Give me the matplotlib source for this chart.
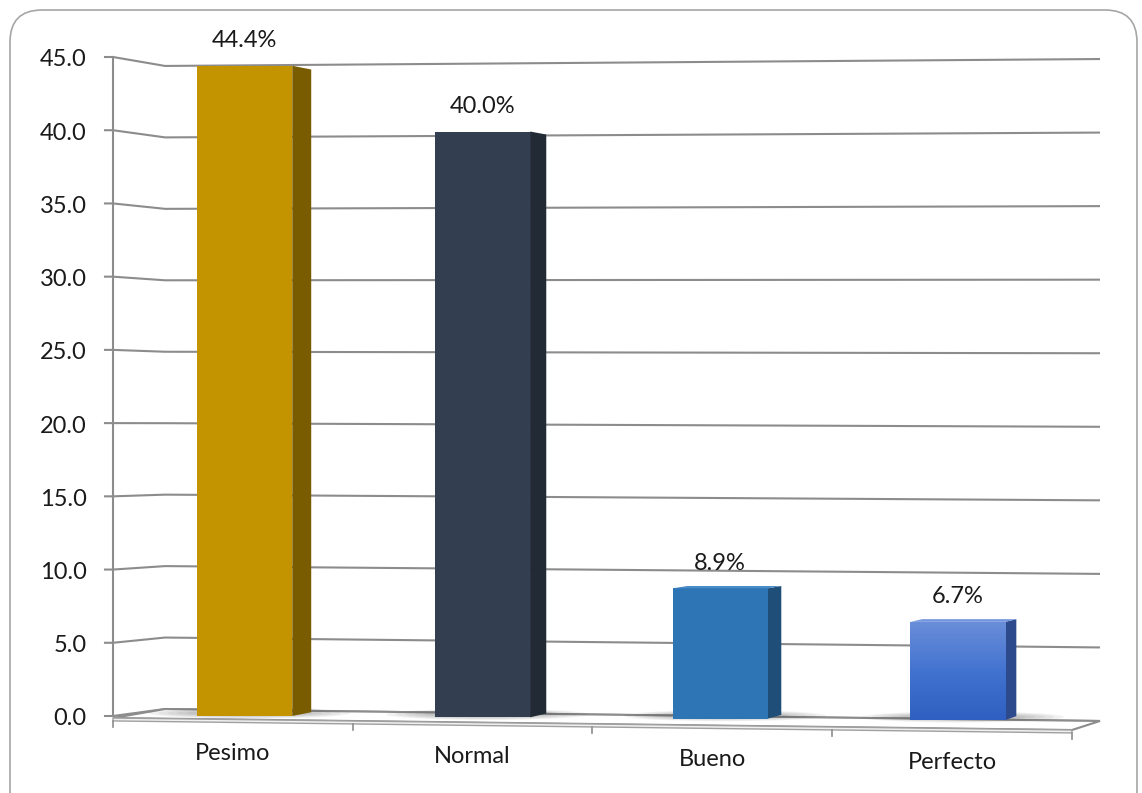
import numpy as np
import matplotlib.pyplot as plt
from matplotlib.patches import Polygon, FancyBboxPatch, Ellipse
from matplotlib.colors import LinearSegmentedColormap

plt.rcParams['font.family'] = ['Lato', 'DejaVu Sans']

# Datos
categorias = ['Pesimo', 'Normal', 'Bueno', 'Perfecto']
porcentajes = [44.4, 40.0, 8.9, 6.7]
ticks_y = np.arange(0, 50, 5)

color_frente = ['#C39300', '#333F50', '#2E75B6', '#4A74CC']
color_lado = ['#7A5C00', '#222A35', '#1F4E79', '#2C4A8C']
color_tapa = ['#D6A820', '#465468', '#4A8CC8', '#7395DE']

# Geometria de la vista en perspectiva (unidades de datos)
x_izq, x_fondo, x_der = -0.554, -0.335, 3.597   # eje, esquina del fondo, borde derecho
x_piso_der = 3.479                              # esquina frontal derecha del piso
vp_x, vp_y, prof = 7.125, 22.3, 0.0115          # punto de fuga y profundidad de las barras
ancho = 0.40
gris = '#8c8c8c'
texto = '#1a1a1a'
tam = 17


def fondo_izq(v):
    return 0.478 + 0.9758 * v


def fondo_der(v):
    return -0.341 + 1.0045 * v


def borde_frente(x):
    # borde frontal del piso, de (x_izq, -0.137) a (x_piso_der, -0.956)
    return -0.137 + (x - x_izq) * (-0.956 + 0.137) / (x_piso_der - x_izq)


def fuga(x, y):
    return vp_x + (x - vp_x) * (1 - prof), vp_y + (y - vp_y) * (1 - prof)


fig = plt.figure(figsize=(11.42, 7.93), dpi=100)
ax = fig.add_axes([113 / 1142, 77 / 793, 987 / 1142, 659 / 793])
ax.set_xlim(x_izq, x_der)
ax.set_ylim(0, 45)
ax.axis('off')

# marco redondeado del grafico
marco = FancyBboxPatch((0.10, -0.3), 11.27, 8.13,
                       boxstyle='round,pad=0,rounding_size=0.32',
                       transform=fig.dpi_scale_trans, facecolor='none',
                       edgecolor='#a6a6a6', linewidth=1.2)
fig.add_artist(marco)

# lineas de cuadricula: pared lateral + pared del fondo
for v in ticks_y:
    ax.plot([x_izq - 0.038, x_izq, x_fondo, x_der],
            [v, v, fondo_izq(v), fondo_der(v)],
            color=gris, lw=1.5, solid_capstyle='butt', clip_on=False, zorder=1)
    ax.text(x_izq - 0.11, v - 0.2, f'{v:.1f}', ha='right', va='center',
            fontsize=tam, color=texto, clip_on=False)

# eje vertical
ax.plot([x_izq, x_izq], [0, 45], color=gris, lw=1.5, clip_on=False, zorder=1)

# piso con un poco de grosor
y_fi, y_fd = borde_frente(x_izq), borde_frente(x_piso_der)
piso = Polygon([(x_izq, y_fi), (x_fondo, fondo_izq(0)), (x_der, fondo_der(0)),
                (x_piso_der, y_fd)], closed=True, facecolor='white',
               edgecolor=gris, lw=1.5, clip_on=False, zorder=2)
ax.add_patch(piso)
grosor = 0.2
canto = Polygon([(x_izq, y_fi), (x_piso_der, y_fd), (x_piso_der, y_fd - grosor),
                 (x_izq, y_fi - grosor)], closed=True, facecolor='#f0f0f0',
                edgecolor='#a0a0a0', lw=1.0, clip_on=False, zorder=2)
ax.add_patch(canto)

# marcas de categoria sobre el borde frontal
paso = (x_piso_der - x_izq) / len(categorias)
for k in range(len(categorias) + 1):
    xk = x_izq + k * paso
    ax.plot([xk, xk], [borde_frente(xk) - grosor, borde_frente(xk) - 0.6],
            color=gris, lw=1.2, clip_on=False, zorder=2)

# etiquetas de categoria
for k, nombre in enumerate(categorias):
    xm = x_izq + (k + 0.5) * paso
    ax.text(xm, borde_frente(xm) - 2.3, nombre, ha='center', va='center',
            fontsize=tam, color=texto, clip_on=False)

pos = np.arange(len(categorias))
base = -0.09 * pos

# sombras suaves bajo las barras
for x, b in zip(pos, base):
    for s in range(5):
        ax.add_patch(Ellipse((x + 0.02, b + 0.2), ancho + 0.45 - 0.08 * s, 0.75 - 0.1 * s,
                             facecolor='#404040', alpha=0.07, edgecolor='none',
                             clip_on=False, zorder=3))

barras = ax.bar(pos, porcentajes, width=ancho, bottom=base, color=color_frente,
                edgecolor='none', zorder=5, clip_on=False)

# degradado de la ultima barra
degradado = LinearSegmentedColormap.from_list('azul', ['#2F5FC0', '#4373D0', '#6A8ED9'])
ultima = barras[-1]
img = ax.imshow(np.linspace(0, 1, 100).reshape(-1, 1), cmap=degradado,
                extent=[pos[-1] - ancho / 2, pos[-1] + ancho / 2, base[-1],
                        base[-1] + porcentajes[-1]],
                origin='lower', aspect='auto', zorder=5)
img.set_clip_path(ultima)
ax.set_xlim(x_izq, x_der)
ax.set_ylim(0, 45)

# caras laterales y superiores
for x, b, v, cl, ct in zip(pos, base, porcentajes, color_lado, color_tapa):
    xl, xr = x - ancho / 2, x + ancho / 2
    t = b + v
    lado = Polygon([(xr, b), (xr, t), fuga(xr, t), fuga(xr, b)], closed=True,
                   facecolor=cl, edgecolor='none', clip_on=False, zorder=4)
    ax.add_patch(lado)
    if t < vp_y:
        tapa = Polygon([(xl, t), (xr, t), fuga(xr, t), fuga(xl, t)], closed=True,
                       facecolor=ct, edgecolor='none', clip_on=False, zorder=6)
        ax.add_patch(tapa)

# etiquetas de valor
for x, b, v in zip(pos, base, porcentajes):
    ax.annotate(f'{v:.1f}%', (x, b + v), xytext=(0, 18), textcoords='offset points',
                ha='center', va='center', fontsize=tam, color=texto,
                annotation_clip=False)

fig.savefig('out.png', dpi=100)
